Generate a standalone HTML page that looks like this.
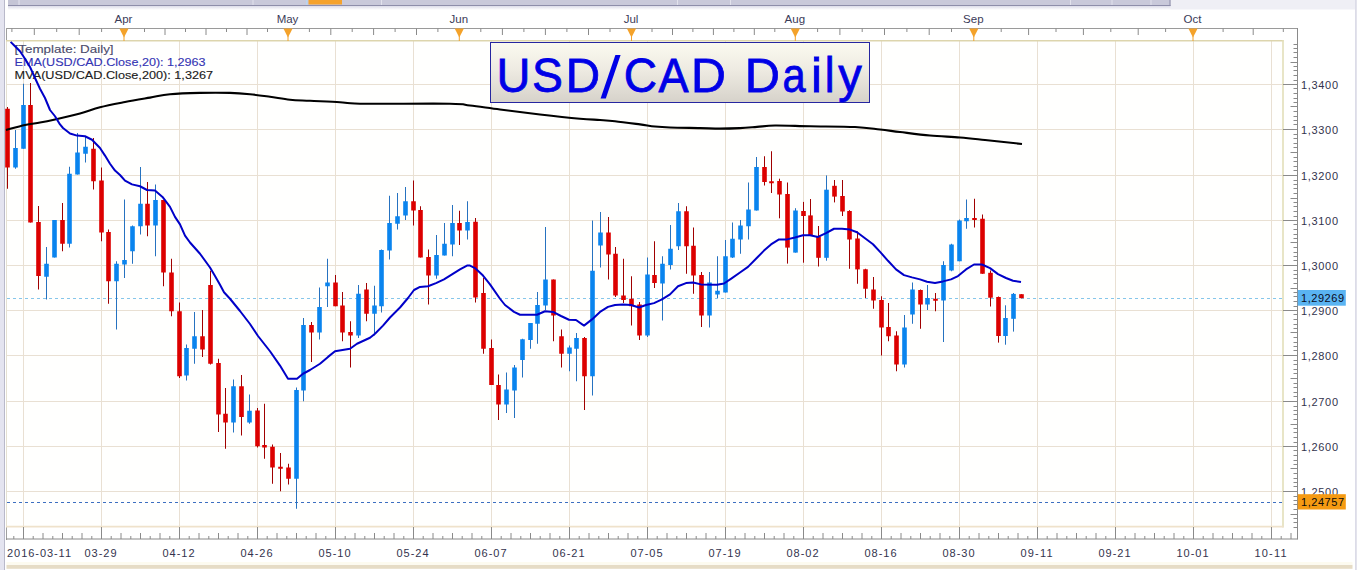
<!DOCTYPE html>
<html><head><meta charset="utf-8"><title>USD/CAD Daily</title>
<style>html,body{margin:0;padding:0;background:#fff;overflow:hidden}svg{display:block}</style>
</head><body>
<svg width="1358" height="570" viewBox="0 0 1358 570">
<rect x="0" y="0" width="1358" height="570" fill="#ffffff"/>
<rect x="0" y="0" width="4" height="570" fill="#e4e4f0"/>
<rect x="4" y="0" width="1" height="570" fill="#b9b9ca"/>
<rect x="1355" y="0" width="1.8" height="570" fill="#dcdce8"/>

<rect x="1170" y="0" width="185" height="9.5" fill="#efeff5"/>
<defs><linearGradient id="sh" x1="0" y1="0" x2="0" y2="1"><stop offset="0" stop-color="#d4d4e4"/><stop offset="1" stop-color="#ffffff"/></linearGradient><linearGradient id="tg" x1="0" y1="0" x2="0" y2="1"><stop offset="0" stop-color="#fbfaf0"/><stop offset="0.45" stop-color="#eeebe2"/><stop offset="1" stop-color="#d6d2ca"/></linearGradient></defs>
<rect x="8" y="5" width="1162.5" height="5" fill="url(#sh)"/>
<rect x="8" y="0" width="1162.5" height="5.5" fill="#c9c9da"/>
<rect x="8" y="0" width="10.5" height="5.5" fill="#c5c5d6"/>
<rect x="8" y="5" width="1162.5" height="1" fill="#8e8eaa"/>
<rect x="18.5" y="0" width="1" height="5" fill="#e2e2ec"/>
<rect x="252.5" y="0" width="1" height="5" fill="#e2e2ec"/>
<rect x="381" y="0" width="1" height="5" fill="#e2e2ec"/>
<rect x="677" y="0" width="1" height="5" fill="#e2e2ec"/>
<rect x="730" y="0" width="1" height="5" fill="#e2e2ec"/>
<rect x="1070" y="0" width="1" height="5" fill="#e2e2ec"/>
<rect x="1111.5" y="0" width="1" height="5" fill="#e2e2ec"/>
<rect x="1150.5" y="0" width="1" height="5" fill="#e2e2ec"/>
<rect x="306" y="0" width="1.5" height="5" fill="#b8d4f0"/>
<rect x="308.5" y="0" width="33.5" height="4.5" fill="#f5a22c"/>
<rect x="1169.5" y="0" width="1" height="6" fill="#8e8eaa"/>
<rect x="6.5" y="28" width="1291" height="13" fill="#ffffff"/>
<line x1="6" y1="28.5" x2="1298" y2="28.5" stroke="#9a9a9a" stroke-width="1"/>
<line x1="6.5" y1="28" x2="6.5" y2="540" stroke="#a0a0a0" stroke-width="1"/>
<line x1="11.9" y1="28.5" x2="11.9" y2="32.0" stroke="#8a8a8a" stroke-width="1"/>
<line x1="34.3" y1="28.5" x2="34.3" y2="35.0" stroke="#8a8a8a" stroke-width="1"/>
<line x1="56.7" y1="28.5" x2="56.7" y2="32.0" stroke="#8a8a8a" stroke-width="1"/>
<line x1="79.2" y1="28.5" x2="79.2" y2="35.0" stroke="#8a8a8a" stroke-width="1"/>
<line x1="101.6" y1="28.5" x2="101.6" y2="32.0" stroke="#8a8a8a" stroke-width="1"/>
<line x1="144.5" y1="28.5" x2="144.5" y2="32.0" stroke="#8a8a8a" stroke-width="1"/>
<line x1="165.0" y1="28.5" x2="165.0" y2="35.0" stroke="#8a8a8a" stroke-width="1"/>
<line x1="185.5" y1="28.5" x2="185.5" y2="32.0" stroke="#8a8a8a" stroke-width="1"/>
<line x1="206.0" y1="28.5" x2="206.0" y2="35.0" stroke="#8a8a8a" stroke-width="1"/>
<line x1="226.5" y1="28.5" x2="226.5" y2="32.0" stroke="#8a8a8a" stroke-width="1"/>
<line x1="247.0" y1="28.5" x2="247.0" y2="35.0" stroke="#8a8a8a" stroke-width="1"/>
<line x1="267.5" y1="28.5" x2="267.5" y2="32.0" stroke="#8a8a8a" stroke-width="1"/>
<line x1="309.4" y1="28.5" x2="309.4" y2="32.0" stroke="#8a8a8a" stroke-width="1"/>
<line x1="330.8" y1="28.5" x2="330.8" y2="35.0" stroke="#8a8a8a" stroke-width="1"/>
<line x1="352.2" y1="28.5" x2="352.2" y2="32.0" stroke="#8a8a8a" stroke-width="1"/>
<line x1="373.6" y1="28.5" x2="373.6" y2="35.0" stroke="#8a8a8a" stroke-width="1"/>
<line x1="395.1" y1="28.5" x2="395.1" y2="32.0" stroke="#8a8a8a" stroke-width="1"/>
<line x1="416.5" y1="28.5" x2="416.5" y2="35.0" stroke="#8a8a8a" stroke-width="1"/>
<line x1="437.9" y1="28.5" x2="437.9" y2="32.0" stroke="#8a8a8a" stroke-width="1"/>
<line x1="480.8" y1="28.5" x2="480.8" y2="32.0" stroke="#8a8a8a" stroke-width="1"/>
<line x1="502.4" y1="28.5" x2="502.4" y2="35.0" stroke="#8a8a8a" stroke-width="1"/>
<line x1="523.9" y1="28.5" x2="523.9" y2="32.0" stroke="#8a8a8a" stroke-width="1"/>
<line x1="545.4" y1="28.5" x2="545.4" y2="35.0" stroke="#8a8a8a" stroke-width="1"/>
<line x1="566.9" y1="28.5" x2="566.9" y2="32.0" stroke="#8a8a8a" stroke-width="1"/>
<line x1="588.5" y1="28.5" x2="588.5" y2="35.0" stroke="#8a8a8a" stroke-width="1"/>
<line x1="610.0" y1="28.5" x2="610.0" y2="32.0" stroke="#8a8a8a" stroke-width="1"/>
<line x1="652.0" y1="28.5" x2="652.0" y2="32.0" stroke="#8a8a8a" stroke-width="1"/>
<line x1="672.5" y1="28.5" x2="672.5" y2="35.0" stroke="#8a8a8a" stroke-width="1"/>
<line x1="692.9" y1="28.5" x2="692.9" y2="32.0" stroke="#8a8a8a" stroke-width="1"/>
<line x1="713.4" y1="28.5" x2="713.4" y2="35.0" stroke="#8a8a8a" stroke-width="1"/>
<line x1="733.9" y1="28.5" x2="733.9" y2="32.0" stroke="#8a8a8a" stroke-width="1"/>
<line x1="754.3" y1="28.5" x2="754.3" y2="35.0" stroke="#8a8a8a" stroke-width="1"/>
<line x1="774.8" y1="28.5" x2="774.8" y2="32.0" stroke="#8a8a8a" stroke-width="1"/>
<line x1="817.6" y1="28.5" x2="817.6" y2="32.0" stroke="#8a8a8a" stroke-width="1"/>
<line x1="839.9" y1="28.5" x2="839.9" y2="35.0" stroke="#8a8a8a" stroke-width="1"/>
<line x1="862.2" y1="28.5" x2="862.2" y2="32.0" stroke="#8a8a8a" stroke-width="1"/>
<line x1="884.5" y1="28.5" x2="884.5" y2="35.0" stroke="#8a8a8a" stroke-width="1"/>
<line x1="906.9" y1="28.5" x2="906.9" y2="32.0" stroke="#8a8a8a" stroke-width="1"/>
<line x1="929.2" y1="28.5" x2="929.2" y2="35.0" stroke="#8a8a8a" stroke-width="1"/>
<line x1="951.5" y1="28.5" x2="951.5" y2="32.0" stroke="#8a8a8a" stroke-width="1"/>
<line x1="1001.2" y1="28.5" x2="1001.2" y2="32.0" stroke="#8a8a8a" stroke-width="1"/>
<line x1="1028.6" y1="28.5" x2="1028.6" y2="35.0" stroke="#8a8a8a" stroke-width="1"/>
<line x1="1056.0" y1="28.5" x2="1056.0" y2="32.0" stroke="#8a8a8a" stroke-width="1"/>
<line x1="1083.4" y1="28.5" x2="1083.4" y2="35.0" stroke="#8a8a8a" stroke-width="1"/>
<line x1="1110.8" y1="28.5" x2="1110.8" y2="32.0" stroke="#8a8a8a" stroke-width="1"/>
<line x1="1138.2" y1="28.5" x2="1138.2" y2="35.0" stroke="#8a8a8a" stroke-width="1"/>
<line x1="1165.6" y1="28.5" x2="1165.6" y2="32.0" stroke="#8a8a8a" stroke-width="1"/>
<line x1="1223.1" y1="28.5" x2="1223.1" y2="32.0" stroke="#8a8a8a" stroke-width="1"/>
<line x1="1253.2" y1="28.5" x2="1253.2" y2="35.0" stroke="#8a8a8a" stroke-width="1"/>
<line x1="1283.3" y1="28.5" x2="1283.3" y2="32.0" stroke="#8a8a8a" stroke-width="1"/>
<text x="123.5" y="22.9" font-family='"Liberation Sans", sans-serif' font-size="11.5" fill="#3b3b58" stroke="#3b3b58" stroke-width="0.0" text-anchor="middle">Apr</text>
<text x="287.5" y="22.9" font-family='"Liberation Sans", sans-serif' font-size="11.5" fill="#3b3b58" stroke="#3b3b58" stroke-width="0.0" text-anchor="middle">May</text>
<text x="458.8" y="22.9" font-family='"Liberation Sans", sans-serif' font-size="11.5" fill="#3b3b58" stroke="#3b3b58" stroke-width="0.0" text-anchor="middle">Jun</text>
<text x="631.0" y="22.9" font-family='"Liberation Sans", sans-serif' font-size="11.5" fill="#3b3b58" stroke="#3b3b58" stroke-width="0.0" text-anchor="middle">Jul</text>
<text x="794.8" y="22.9" font-family='"Liberation Sans", sans-serif' font-size="11.5" fill="#3b3b58" stroke="#3b3b58" stroke-width="0.0" text-anchor="middle">Aug</text>
<text x="973.3" y="22.9" font-family='"Liberation Sans", sans-serif' font-size="11.5" fill="#3b3b58" stroke="#3b3b58" stroke-width="0.0" text-anchor="middle">Sep</text>
<text x="1192.5" y="22.9" font-family='"Liberation Sans", sans-serif' font-size="11.5" fill="#3b3b58" stroke="#3b3b58" stroke-width="0.0" text-anchor="middle">Oct</text>
<rect x="6.5" y="40.5" width="1276.5" height="486" fill="#fffffe"/>
<line x1="6.5" y1="84.50" x2="1283" y2="84.50" stroke="#e9e0d3" stroke-width="1"/>
<line x1="6.5" y1="129.50" x2="1283" y2="129.50" stroke="#e9e0d3" stroke-width="1"/>
<line x1="6.5" y1="175.50" x2="1283" y2="175.50" stroke="#e9e0d3" stroke-width="1"/>
<line x1="6.5" y1="220.50" x2="1283" y2="220.50" stroke="#e9e0d3" stroke-width="1"/>
<line x1="6.5" y1="265.50" x2="1283" y2="265.50" stroke="#e9e0d3" stroke-width="1"/>
<line x1="6.5" y1="310.50" x2="1283" y2="310.50" stroke="#e9e0d3" stroke-width="1"/>
<line x1="6.5" y1="355.50" x2="1283" y2="355.50" stroke="#e9e0d3" stroke-width="1"/>
<line x1="6.5" y1="401.50" x2="1283" y2="401.50" stroke="#e9e0d3" stroke-width="1"/>
<line x1="6.5" y1="446.50" x2="1283" y2="446.50" stroke="#e9e0d3" stroke-width="1"/>
<line x1="6.5" y1="491.50" x2="1283" y2="491.50" stroke="#e9e0d3" stroke-width="1"/>
<line x1="23.5" y1="40.5" x2="23.5" y2="527" stroke="#e9e0d3" stroke-width="1"/>
<line x1="101.5" y1="40.5" x2="101.5" y2="527" stroke="#e9e0d3" stroke-width="1"/>
<line x1="179.5" y1="40.5" x2="179.5" y2="527" stroke="#e9e0d3" stroke-width="1"/>
<line x1="257.5" y1="40.5" x2="257.5" y2="527" stroke="#e9e0d3" stroke-width="1"/>
<line x1="335.5" y1="40.5" x2="335.5" y2="527" stroke="#e9e0d3" stroke-width="1"/>
<line x1="413.5" y1="40.5" x2="413.5" y2="527" stroke="#e9e0d3" stroke-width="1"/>
<line x1="491.5" y1="40.5" x2="491.5" y2="527" stroke="#e9e0d3" stroke-width="1"/>
<line x1="569.5" y1="40.5" x2="569.5" y2="527" stroke="#e9e0d3" stroke-width="1"/>
<line x1="647.5" y1="40.5" x2="647.5" y2="527" stroke="#e9e0d3" stroke-width="1"/>
<line x1="725.5" y1="40.5" x2="725.5" y2="527" stroke="#e9e0d3" stroke-width="1"/>
<line x1="803.5" y1="40.5" x2="803.5" y2="527" stroke="#e9e0d3" stroke-width="1"/>
<line x1="881.5" y1="40.5" x2="881.5" y2="527" stroke="#e9e0d3" stroke-width="1"/>
<line x1="959.5" y1="40.5" x2="959.5" y2="527" stroke="#e9e0d3" stroke-width="1"/>
<line x1="1037.5" y1="40.5" x2="1037.5" y2="527" stroke="#e9e0d3" stroke-width="1"/>
<line x1="1115.5" y1="40.5" x2="1115.5" y2="527" stroke="#e9e0d3" stroke-width="1"/>
<line x1="1193.5" y1="40.5" x2="1193.5" y2="527" stroke="#e9e0d3" stroke-width="1"/>
<line x1="1271.5" y1="40.5" x2="1271.5" y2="527" stroke="#e9e0d3" stroke-width="1"/>
<line x1="6.5" y1="40.5" x2="6.5" y2="527" stroke="#e4e0d2" stroke-width="1"/>
<line x1="6" y1="40.8" x2="1283.5" y2="40.8" stroke="#ddd5ad" stroke-width="1.6"/>
<line x1="1283" y1="40" x2="1283" y2="527.5" stroke="#e3dfb9" stroke-width="1.6"/>
<line x1="6" y1="526.6" x2="1283.5" y2="526.6" stroke="#efe2cb" stroke-width="1.8"/>
<polygon points="119.4,28.5 128.6,28.5 124.0,37.5" fill="#f4a22a"/>
<line x1="124.0" y1="36" x2="124.0" y2="41" stroke="#f4a22a" stroke-width="1"/>
<polygon points="283.4,28.5 292.6,28.5 288.0,37.5" fill="#f4a22a"/>
<line x1="288.0" y1="36" x2="288.0" y2="41" stroke="#f4a22a" stroke-width="1"/>
<polygon points="454.7,28.5 463.9,28.5 459.3,37.5" fill="#f4a22a"/>
<line x1="459.3" y1="36" x2="459.3" y2="41" stroke="#f4a22a" stroke-width="1"/>
<polygon points="626.9,28.5 636.1,28.5 631.5,37.5" fill="#f4a22a"/>
<line x1="631.5" y1="36" x2="631.5" y2="41" stroke="#f4a22a" stroke-width="1"/>
<polygon points="790.7,28.5 799.9,28.5 795.3,37.5" fill="#f4a22a"/>
<line x1="795.3" y1="36" x2="795.3" y2="41" stroke="#f4a22a" stroke-width="1"/>
<polygon points="969.2,28.5 978.4,28.5 973.8,37.5" fill="#f4a22a"/>
<line x1="973.8" y1="36" x2="973.8" y2="41" stroke="#f4a22a" stroke-width="1"/>
<polygon points="1188.4,28.5 1197.6,28.5 1193.0,37.5" fill="#f4a22a"/>
<line x1="1193.0" y1="36" x2="1193.0" y2="41" stroke="#f4a22a" stroke-width="1"/>
<line x1="7" y1="298.5" x2="1283" y2="298.5" stroke="#86c6ea" stroke-width="1" stroke-dasharray="3,3"/>
<line x1="7" y1="502.5" x2="1283" y2="502.5" stroke="#3d6fc0" stroke-width="1.2" stroke-dasharray="3,3"/>
<rect x="7" y="107.00" width="1" height="81.75" fill="#a00000"/>
<rect x="5.20" y="108.75" width="4.6" height="58.75" fill="#dc0000"/>
<rect x="15" y="130.00" width="1" height="38.75" fill="#2672c0"/>
<rect x="13.20" y="148.00" width="4.6" height="19.50" fill="#0a84ee"/>
<rect x="23" y="83.75" width="1" height="65.00" fill="#2672c0"/>
<rect x="21.20" y="105.00" width="4.6" height="43.75" fill="#0a84ee"/>
<rect x="30" y="83.00" width="1" height="139.50" fill="#a00000"/>
<rect x="28.20" y="105.00" width="4.6" height="117.50" fill="#dc0000"/>
<rect x="38" y="206.00" width="1" height="83.50" fill="#a00000"/>
<rect x="36.20" y="222.00" width="4.6" height="54.00" fill="#dc0000"/>
<rect x="46" y="247.00" width="1" height="52.50" fill="#2672c0"/>
<rect x="44.20" y="263.75" width="4.6" height="13.00" fill="#0a84ee"/>
<rect x="54" y="220.00" width="1" height="37.50" fill="#2672c0"/>
<rect x="52.20" y="220.00" width="4.6" height="37.50" fill="#0a84ee"/>
<rect x="62" y="203.00" width="1" height="48.25" fill="#a00000"/>
<rect x="60.20" y="220.00" width="4.6" height="23.75" fill="#dc0000"/>
<rect x="69" y="166.75" width="1" height="80.75" fill="#2672c0"/>
<rect x="67.20" y="173.75" width="4.6" height="70.00" fill="#0a84ee"/>
<rect x="77" y="133.00" width="1" height="41.50" fill="#2672c0"/>
<rect x="75.20" y="152.50" width="4.6" height="22.00" fill="#0a84ee"/>
<rect x="85" y="136.25" width="1" height="26.25" fill="#2672c0"/>
<rect x="83.20" y="146.75" width="4.6" height="7.00" fill="#0a84ee"/>
<rect x="93" y="138.00" width="1" height="51.50" fill="#a00000"/>
<rect x="91.20" y="148.75" width="4.6" height="32.50" fill="#dc0000"/>
<rect x="101" y="167.50" width="1" height="73.75" fill="#a00000"/>
<rect x="99.20" y="180.50" width="4.6" height="52.00" fill="#dc0000"/>
<rect x="108" y="229.50" width="1" height="74.25" fill="#a00000"/>
<rect x="106.20" y="232.00" width="4.6" height="49.25" fill="#dc0000"/>
<rect x="116" y="261.25" width="1" height="68.25" fill="#2672c0"/>
<rect x="114.20" y="263.75" width="4.6" height="17.50" fill="#0a84ee"/>
<rect x="124" y="199.50" width="1" height="78.50" fill="#2672c0"/>
<rect x="122.20" y="260.00" width="4.6" height="4.50" fill="#0a84ee"/>
<rect x="132" y="225.50" width="1" height="38.25" fill="#2672c0"/>
<rect x="130.20" y="226.25" width="4.6" height="25.00" fill="#0a84ee"/>
<rect x="140" y="167.00" width="1" height="67.50" fill="#2672c0"/>
<rect x="138.20" y="203.75" width="4.6" height="22.50" fill="#0a84ee"/>
<rect x="147" y="182.00" width="1" height="54.25" fill="#a00000"/>
<rect x="145.20" y="203.75" width="4.6" height="21.75" fill="#dc0000"/>
<rect x="155" y="184.50" width="1" height="71.75" fill="#2672c0"/>
<rect x="153.20" y="200.00" width="4.6" height="25.50" fill="#0a84ee"/>
<rect x="163" y="200.00" width="1" height="86.25" fill="#a00000"/>
<rect x="161.20" y="200.00" width="4.6" height="72.50" fill="#dc0000"/>
<rect x="171" y="258.75" width="1" height="57.50" fill="#a00000"/>
<rect x="169.20" y="272.50" width="4.6" height="38.75" fill="#dc0000"/>
<rect x="179" y="302.50" width="1" height="75.50" fill="#a00000"/>
<rect x="177.20" y="311.25" width="4.6" height="65.00" fill="#dc0000"/>
<rect x="186" y="344.50" width="1" height="36.00" fill="#2672c0"/>
<rect x="184.20" y="348.00" width="4.6" height="27.50" fill="#0a84ee"/>
<rect x="194" y="312.00" width="1" height="51.75" fill="#2672c0"/>
<rect x="192.20" y="336.25" width="4.6" height="12.50" fill="#0a84ee"/>
<rect x="202" y="310.00" width="1" height="47.00" fill="#a00000"/>
<rect x="200.20" y="336.25" width="4.6" height="13.25" fill="#dc0000"/>
<rect x="210" y="270.75" width="1" height="93.75" fill="#a00000"/>
<rect x="208.20" y="285.00" width="4.6" height="78.75" fill="#dc0000"/>
<rect x="218" y="358.75" width="1" height="73.25" fill="#a00000"/>
<rect x="216.20" y="363.00" width="4.6" height="51.50" fill="#dc0000"/>
<rect x="225" y="388.00" width="1" height="60.75" fill="#a00000"/>
<rect x="223.20" y="413.75" width="4.6" height="8.75" fill="#dc0000"/>
<rect x="233" y="379.50" width="1" height="53.00" fill="#2672c0"/>
<rect x="231.20" y="386.25" width="4.6" height="36.25" fill="#0a84ee"/>
<rect x="241" y="375.00" width="1" height="60.50" fill="#a00000"/>
<rect x="239.20" y="386.25" width="4.6" height="30.75" fill="#dc0000"/>
<rect x="249" y="394.50" width="1" height="29.25" fill="#2672c0"/>
<rect x="247.20" y="410.75" width="4.6" height="11.75" fill="#0a84ee"/>
<rect x="257" y="408.00" width="1" height="39.50" fill="#a00000"/>
<rect x="255.20" y="410.50" width="4.6" height="35.75" fill="#dc0000"/>
<rect x="264" y="403.75" width="1" height="55.00" fill="#a00000"/>
<rect x="262.20" y="445.00" width="4.6" height="2.50" fill="#dc0000"/>
<rect x="272" y="444.50" width="1" height="39.25" fill="#a00000"/>
<rect x="270.20" y="446.75" width="4.6" height="20.75" fill="#dc0000"/>
<rect x="280" y="453.00" width="1" height="38.25" fill="#a00000"/>
<rect x="278.20" y="466.75" width="4.6" height="2.00" fill="#dc0000"/>
<rect x="288" y="463.75" width="1" height="20.75" fill="#a00000"/>
<rect x="286.20" y="467.50" width="4.6" height="11.25" fill="#dc0000"/>
<rect x="296" y="387.50" width="1" height="121.25" fill="#2672c0"/>
<rect x="294.20" y="390.00" width="4.6" height="88.75" fill="#0a84ee"/>
<rect x="303" y="318.00" width="1" height="83.25" fill="#2672c0"/>
<rect x="301.20" y="325.00" width="4.6" height="65.50" fill="#0a84ee"/>
<rect x="311" y="322.00" width="1" height="40.00" fill="#a00000"/>
<rect x="309.20" y="325.00" width="4.6" height="7.50" fill="#dc0000"/>
<rect x="319" y="287.50" width="1" height="52.00" fill="#2672c0"/>
<rect x="317.20" y="307.00" width="4.6" height="25.50" fill="#0a84ee"/>
<rect x="327" y="258.75" width="1" height="48.25" fill="#2672c0"/>
<rect x="325.20" y="282.50" width="4.6" height="3.75" fill="#0a84ee"/>
<rect x="335" y="275.00" width="1" height="31.25" fill="#a00000"/>
<rect x="333.20" y="282.50" width="4.6" height="23.75" fill="#dc0000"/>
<rect x="342" y="292.00" width="1" height="49.25" fill="#a00000"/>
<rect x="340.20" y="305.50" width="4.6" height="27.00" fill="#dc0000"/>
<rect x="350" y="321.25" width="1" height="46.25" fill="#a00000"/>
<rect x="348.20" y="332.00" width="4.6" height="3.50" fill="#dc0000"/>
<rect x="358" y="285.00" width="1" height="53.00" fill="#2672c0"/>
<rect x="356.20" y="293.75" width="4.6" height="41.75" fill="#0a84ee"/>
<rect x="366" y="283.00" width="1" height="38.25" fill="#a00000"/>
<rect x="364.20" y="289.50" width="4.6" height="24.25" fill="#dc0000"/>
<rect x="374" y="285.75" width="1" height="49.75" fill="#2672c0"/>
<rect x="372.20" y="305.50" width="4.6" height="8.25" fill="#0a84ee"/>
<rect x="381" y="249.50" width="1" height="63.00" fill="#2672c0"/>
<rect x="379.20" y="250.00" width="4.6" height="56.25" fill="#0a84ee"/>
<rect x="389" y="195.75" width="1" height="63.75" fill="#2672c0"/>
<rect x="387.20" y="223.00" width="4.6" height="27.50" fill="#0a84ee"/>
<rect x="397" y="193.00" width="1" height="36.50" fill="#2672c0"/>
<rect x="395.20" y="216.25" width="4.6" height="7.50" fill="#0a84ee"/>
<rect x="405" y="187.00" width="1" height="33.00" fill="#2672c0"/>
<rect x="403.20" y="201.25" width="4.6" height="14.25" fill="#0a84ee"/>
<rect x="413" y="180.50" width="1" height="45.00" fill="#a00000"/>
<rect x="411.20" y="201.25" width="4.6" height="9.25" fill="#dc0000"/>
<rect x="420" y="206.25" width="1" height="51.25" fill="#a00000"/>
<rect x="418.20" y="210.00" width="4.6" height="47.50" fill="#dc0000"/>
<rect x="428" y="249.50" width="1" height="55.00" fill="#a00000"/>
<rect x="426.20" y="257.00" width="4.6" height="18.50" fill="#dc0000"/>
<rect x="436" y="235.00" width="1" height="43.75" fill="#2672c0"/>
<rect x="434.20" y="255.00" width="4.6" height="20.50" fill="#0a84ee"/>
<rect x="444" y="223.00" width="1" height="32.50" fill="#2672c0"/>
<rect x="442.20" y="243.75" width="4.6" height="11.75" fill="#0a84ee"/>
<rect x="452" y="205.00" width="1" height="51.25" fill="#2672c0"/>
<rect x="450.20" y="223.00" width="4.6" height="21.50" fill="#0a84ee"/>
<rect x="459" y="210.75" width="1" height="34.25" fill="#a00000"/>
<rect x="457.20" y="223.00" width="4.6" height="7.50" fill="#dc0000"/>
<rect x="467" y="201.25" width="1" height="38.25" fill="#2672c0"/>
<rect x="465.20" y="222.00" width="4.6" height="8.50" fill="#0a84ee"/>
<rect x="475" y="218.00" width="1" height="84.50" fill="#a00000"/>
<rect x="473.20" y="221.75" width="4.6" height="75.75" fill="#dc0000"/>
<rect x="483" y="278.00" width="1" height="75.75" fill="#a00000"/>
<rect x="481.20" y="293.00" width="4.6" height="55.75" fill="#dc0000"/>
<rect x="491" y="339.50" width="1" height="45.50" fill="#a00000"/>
<rect x="489.20" y="348.00" width="4.6" height="37.00" fill="#dc0000"/>
<rect x="498" y="374.50" width="1" height="45.50" fill="#a00000"/>
<rect x="496.20" y="385.00" width="4.6" height="19.50" fill="#dc0000"/>
<rect x="506" y="372.50" width="1" height="40.50" fill="#2672c0"/>
<rect x="504.20" y="389.50" width="4.6" height="15.00" fill="#0a84ee"/>
<rect x="514" y="365.00" width="1" height="53.00" fill="#2672c0"/>
<rect x="512.20" y="367.50" width="4.6" height="23.00" fill="#0a84ee"/>
<rect x="522" y="338.75" width="1" height="38.75" fill="#2672c0"/>
<rect x="520.20" y="339.25" width="4.6" height="20.75" fill="#0a84ee"/>
<rect x="530" y="323.00" width="1" height="25.75" fill="#2672c0"/>
<rect x="528.20" y="323.00" width="4.6" height="17.00" fill="#0a84ee"/>
<rect x="537" y="292.00" width="1" height="51.75" fill="#2672c0"/>
<rect x="535.20" y="305.00" width="4.6" height="18.75" fill="#0a84ee"/>
<rect x="545" y="227.00" width="1" height="83.00" fill="#2672c0"/>
<rect x="543.20" y="279.50" width="4.6" height="26.00" fill="#0a84ee"/>
<rect x="553" y="279.50" width="1" height="61.75" fill="#a00000"/>
<rect x="551.20" y="279.50" width="4.6" height="36.00" fill="#dc0000"/>
<rect x="561" y="329.50" width="1" height="38.00" fill="#a00000"/>
<rect x="559.20" y="336.25" width="4.6" height="17.50" fill="#dc0000"/>
<rect x="569" y="345.50" width="1" height="25.75" fill="#2672c0"/>
<rect x="567.20" y="347.50" width="4.6" height="6.25" fill="#0a84ee"/>
<rect x="576" y="333.00" width="1" height="48.25" fill="#2672c0"/>
<rect x="574.20" y="338.00" width="4.6" height="10.75" fill="#0a84ee"/>
<rect x="584" y="337.00" width="1" height="73.00" fill="#a00000"/>
<rect x="582.20" y="338.00" width="4.6" height="38.25" fill="#dc0000"/>
<rect x="592" y="220.50" width="1" height="175.00" fill="#2672c0"/>
<rect x="590.20" y="270.75" width="4.6" height="105.50" fill="#0a84ee"/>
<rect x="600" y="212.00" width="1" height="55.50" fill="#2672c0"/>
<rect x="598.20" y="232.50" width="4.6" height="13.00" fill="#0a84ee"/>
<rect x="608" y="217.00" width="1" height="62.50" fill="#a00000"/>
<rect x="606.20" y="232.50" width="4.6" height="22.00" fill="#dc0000"/>
<rect x="615" y="247.00" width="1" height="50.00" fill="#a00000"/>
<rect x="613.20" y="253.75" width="4.6" height="41.75" fill="#dc0000"/>
<rect x="623" y="258.75" width="1" height="44.25" fill="#a00000"/>
<rect x="621.20" y="295.50" width="4.6" height="4.50" fill="#dc0000"/>
<rect x="631" y="276.25" width="1" height="49.25" fill="#a00000"/>
<rect x="629.20" y="298.75" width="4.6" height="7.50" fill="#dc0000"/>
<rect x="639" y="302.00" width="1" height="38.00" fill="#a00000"/>
<rect x="637.20" y="304.50" width="4.6" height="31.00" fill="#dc0000"/>
<rect x="647" y="257.50" width="1" height="79.50" fill="#2672c0"/>
<rect x="645.20" y="274.50" width="4.6" height="61.00" fill="#0a84ee"/>
<rect x="654" y="241.25" width="1" height="46.75" fill="#a00000"/>
<rect x="652.20" y="275.00" width="4.6" height="8.00" fill="#dc0000"/>
<rect x="662" y="256.25" width="1" height="64.25" fill="#2672c0"/>
<rect x="660.20" y="263.75" width="4.6" height="19.75" fill="#0a84ee"/>
<rect x="670" y="225.00" width="1" height="44.50" fill="#2672c0"/>
<rect x="668.20" y="248.75" width="4.6" height="16.25" fill="#0a84ee"/>
<rect x="678" y="203.00" width="1" height="47.00" fill="#2672c0"/>
<rect x="676.20" y="211.25" width="4.6" height="35.00" fill="#0a84ee"/>
<rect x="686" y="206.25" width="1" height="67.50" fill="#a00000"/>
<rect x="684.20" y="211.25" width="4.6" height="35.00" fill="#dc0000"/>
<rect x="693" y="227.50" width="1" height="66.25" fill="#a00000"/>
<rect x="691.20" y="245.75" width="4.6" height="29.75" fill="#dc0000"/>
<rect x="701" y="272.00" width="1" height="55.00" fill="#a00000"/>
<rect x="699.20" y="275.00" width="4.6" height="40.50" fill="#dc0000"/>
<rect x="709" y="272.00" width="1" height="55.50" fill="#2672c0"/>
<rect x="707.20" y="282.50" width="4.6" height="33.00" fill="#0a84ee"/>
<rect x="717" y="256.25" width="1" height="41.75" fill="#2672c0"/>
<rect x="715.20" y="290.75" width="4.6" height="3.75" fill="#0a84ee"/>
<rect x="725" y="240.00" width="1" height="52.50" fill="#2672c0"/>
<rect x="723.20" y="256.25" width="4.6" height="36.25" fill="#0a84ee"/>
<rect x="732" y="222.50" width="1" height="35.50" fill="#2672c0"/>
<rect x="730.20" y="238.75" width="4.6" height="18.75" fill="#0a84ee"/>
<rect x="740" y="220.00" width="1" height="33.75" fill="#2672c0"/>
<rect x="738.20" y="225.50" width="4.6" height="14.00" fill="#0a84ee"/>
<rect x="748" y="182.50" width="1" height="57.00" fill="#2672c0"/>
<rect x="746.20" y="209.50" width="4.6" height="16.75" fill="#0a84ee"/>
<rect x="756" y="157.00" width="1" height="53.50" fill="#2672c0"/>
<rect x="754.20" y="167.00" width="4.6" height="43.50" fill="#0a84ee"/>
<rect x="764" y="156.25" width="1" height="29.25" fill="#a00000"/>
<rect x="762.20" y="167.00" width="4.6" height="15.00" fill="#dc0000"/>
<rect x="771" y="151.25" width="1" height="41.75" fill="#a00000"/>
<rect x="769.20" y="181.25" width="4.6" height="2.00" fill="#dc0000"/>
<rect x="779" y="178.70" width="1" height="39.60" fill="#a00000"/>
<rect x="777.20" y="181.00" width="4.6" height="13.50" fill="#dc0000"/>
<rect x="787" y="182.50" width="1" height="81.10" fill="#a00000"/>
<rect x="785.20" y="194.00" width="4.6" height="53.60" fill="#dc0000"/>
<rect x="795" y="208.20" width="1" height="44.40" fill="#2672c0"/>
<rect x="793.20" y="210.50" width="4.6" height="42.10" fill="#0a84ee"/>
<rect x="803" y="201.90" width="1" height="60.80" fill="#a00000"/>
<rect x="801.20" y="211.00" width="4.6" height="5.00" fill="#dc0000"/>
<rect x="810" y="199.00" width="1" height="37.00" fill="#a00000"/>
<rect x="808.20" y="215.40" width="4.6" height="20.60" fill="#dc0000"/>
<rect x="818" y="226.00" width="1" height="40.50" fill="#a00000"/>
<rect x="816.20" y="236.60" width="4.6" height="21.20" fill="#dc0000"/>
<rect x="826" y="175.40" width="1" height="85.30" fill="#2672c0"/>
<rect x="824.20" y="189.70" width="4.6" height="68.10" fill="#0a84ee"/>
<rect x="834" y="180.00" width="1" height="22.40" fill="#a00000"/>
<rect x="832.20" y="185.80" width="4.6" height="10.80" fill="#dc0000"/>
<rect x="842" y="180.00" width="1" height="36.00" fill="#a00000"/>
<rect x="840.20" y="196.00" width="4.6" height="15.50" fill="#dc0000"/>
<rect x="849" y="210.20" width="1" height="58.60" fill="#a00000"/>
<rect x="847.20" y="211.00" width="4.6" height="28.50" fill="#dc0000"/>
<rect x="857" y="231.40" width="1" height="52.35" fill="#a00000"/>
<rect x="855.20" y="238.50" width="4.6" height="30.90" fill="#dc0000"/>
<rect x="865" y="268.75" width="1" height="29.25" fill="#a00000"/>
<rect x="863.20" y="269.25" width="4.6" height="19.50" fill="#dc0000"/>
<rect x="873" y="277.00" width="1" height="31.75" fill="#a00000"/>
<rect x="871.20" y="289.50" width="4.6" height="11.00" fill="#dc0000"/>
<rect x="881" y="296.25" width="1" height="59.25" fill="#a00000"/>
<rect x="879.20" y="300.00" width="4.6" height="27.50" fill="#dc0000"/>
<rect x="888" y="303.00" width="1" height="38.25" fill="#a00000"/>
<rect x="886.20" y="327.00" width="4.6" height="9.25" fill="#dc0000"/>
<rect x="896" y="331.25" width="1" height="40.00" fill="#a00000"/>
<rect x="894.20" y="335.50" width="4.6" height="29.00" fill="#dc0000"/>
<rect x="904" y="315.00" width="1" height="52.50" fill="#2672c0"/>
<rect x="902.20" y="327.50" width="4.6" height="37.00" fill="#0a84ee"/>
<rect x="912" y="282.50" width="1" height="41.25" fill="#2672c0"/>
<rect x="910.20" y="289.50" width="4.6" height="25.00" fill="#0a84ee"/>
<rect x="920" y="289.50" width="1" height="39.25" fill="#a00000"/>
<rect x="918.20" y="290.00" width="4.6" height="14.50" fill="#dc0000"/>
<rect x="927" y="285.00" width="1" height="25.00" fill="#2672c0"/>
<rect x="925.20" y="298.00" width="4.6" height="6.50" fill="#0a84ee"/>
<rect x="935" y="293.00" width="1" height="18.25" fill="#a00000"/>
<rect x="933.20" y="298.75" width="4.6" height="2.00" fill="#dc0000"/>
<rect x="943" y="261.25" width="1" height="80.75" fill="#2672c0"/>
<rect x="941.20" y="265.00" width="4.6" height="35.50" fill="#0a84ee"/>
<rect x="951" y="243.75" width="1" height="27.50" fill="#2672c0"/>
<rect x="949.20" y="244.50" width="4.6" height="26.00" fill="#0a84ee"/>
<rect x="959" y="219.50" width="1" height="41.75" fill="#2672c0"/>
<rect x="957.20" y="220.50" width="4.6" height="40.75" fill="#0a84ee"/>
<rect x="966" y="199.50" width="1" height="29.25" fill="#2672c0"/>
<rect x="964.20" y="218.00" width="4.6" height="3.25" fill="#0a84ee"/>
<rect x="974" y="198.75" width="1" height="28.75" fill="#a00000"/>
<rect x="972.20" y="218.00" width="4.6" height="2.00" fill="#dc0000"/>
<rect x="982" y="214.50" width="1" height="59.25" fill="#a00000"/>
<rect x="980.20" y="218.75" width="4.6" height="55.00" fill="#dc0000"/>
<rect x="990" y="270.50" width="1" height="36.00" fill="#a00000"/>
<rect x="988.20" y="272.80" width="4.6" height="24.90" fill="#dc0000"/>
<rect x="998" y="296.50" width="1" height="46.10" fill="#a00000"/>
<rect x="996.20" y="297.00" width="4.6" height="39.00" fill="#dc0000"/>
<rect x="1005" y="305.30" width="1" height="39.40" fill="#2672c0"/>
<rect x="1003.20" y="318.00" width="4.6" height="18.00" fill="#0a84ee"/>
<rect x="1013" y="293.00" width="1" height="38.60" fill="#2672c0"/>
<rect x="1011.20" y="293.90" width="4.6" height="24.90" fill="#0a84ee"/>
<rect x="1021" y="294.20" width="1" height="4.00" fill="#a00000"/>
<rect x="1019.20" y="294.20" width="4.6" height="4.00" fill="#dc0000"/>
<text x="14.6" y="53.3" font-family='"Liberation Sans", sans-serif' font-size="11" fill="#4c4c6c" stroke="#4c4c6c" stroke-width="0.12" textLength="99" lengthAdjust="spacingAndGlyphs">[Template: Daily]</text>
<text x="14.6" y="66" font-family='"Liberation Sans", sans-serif' font-size="11" fill="#3434b4" stroke="#3434b4" stroke-width="0.12" textLength="191" lengthAdjust="spacingAndGlyphs">EMA(USD/CAD.Close,20): 1,2963</text>
<text x="14.6" y="78.9" font-family='"Liberation Sans", sans-serif' font-size="11" fill="#202020" stroke="#202020" stroke-width="0.12" textLength="198.5" lengthAdjust="spacingAndGlyphs">MVA(USD/CAD.Close,200): 1,3267</text>
<path d="M6.0,130.00 C9.2,129.17 19.3,126.25 25.0,125.00 C30.7,123.75 35.0,123.43 40.0,122.50 C45.0,121.57 48.3,120.90 55.0,119.40 C61.7,117.90 72.5,115.53 80.0,113.50 C87.5,111.47 92.5,109.12 100.0,107.20 C107.5,105.28 116.7,103.60 125.0,102.00 C133.3,100.40 142.5,98.89 150.0,97.60 C157.5,96.31 161.7,95.03 170.0,94.25 C178.3,93.47 190.0,93.12 200.0,92.90 C210.0,92.68 221.7,92.68 230.0,92.90 C238.3,93.12 243.3,93.60 250.0,94.25 C256.7,94.90 263.3,95.88 270.0,96.80 C276.7,97.72 283.3,99.13 290.0,99.80 C296.7,100.47 301.7,100.40 310.0,100.80 C318.3,101.20 331.7,101.71 340.0,102.20 C348.3,102.69 341.7,103.49 360.0,103.75 C378.3,104.01 431.7,103.46 450.0,103.75 C468.3,104.04 461.7,104.54 470.0,105.50 C478.3,106.46 488.3,108.00 500.0,109.50 C511.7,111.00 526.7,112.96 540.0,114.50 C553.3,116.04 570.0,117.83 580.0,118.75 C590.0,119.67 594.2,119.58 600.0,120.00 C605.8,120.42 608.3,120.52 615.0,121.25 C621.7,121.98 633.3,123.53 640.0,124.40 C646.7,125.28 650.0,125.98 655.0,126.50 C660.0,127.02 662.5,127.23 670.0,127.50 C677.5,127.77 691.7,127.92 700.0,128.10 C708.3,128.28 713.3,128.60 720.0,128.60 C726.7,128.60 733.8,128.38 740.0,128.10 C746.2,127.82 751.2,127.33 757.0,126.90 C762.8,126.47 766.2,125.61 775.0,125.50 C783.8,125.39 796.7,126.00 810.0,126.25 C823.3,126.50 843.3,126.46 855.0,127.00 C866.7,127.54 872.5,128.67 880.0,129.50 C887.5,130.33 891.7,131.00 900.0,132.00 C908.3,133.00 920.0,134.58 930.0,135.50 C940.0,136.42 950.8,136.75 960.0,137.50 C969.2,138.25 974.7,138.92 985.0,140.00 C995.3,141.08 1015.8,143.33 1022.0,144.00" fill="none" stroke="#000000" stroke-width="2.1" stroke-linejoin="round"/>
<path d="M10.6,41.90 C10.6,41.90 15.0,46.25 15.0,46.25 C15.0,46.25 20.0,51.25 20.0,51.25 C20.0,51.25 25.0,58.75 25.0,58.75 C25.0,58.75 30.0,66.90 30.0,66.90 C30.0,66.90 35.0,78.00 35.0,78.00 C35.0,78.00 40.0,88.75 40.0,88.75 C40.0,88.75 45.0,98.00 45.0,98.00 C45.0,98.00 50.0,110.00 50.0,110.00 C50.0,110.00 55.0,116.25 55.0,116.25 C55.0,116.25 60.0,124.40 60.0,124.40 C60.0,124.40 63.0,128.00 63.0,128.00 C63.0,128.00 70.0,133.50 70.0,133.50 C70.0,133.50 77.0,135.60 77.0,135.60 C77.0,135.60 85.0,136.25 85.0,136.25 C85.0,136.25 92.0,139.75 92.0,139.75 C92.0,139.75 100.0,148.00 100.0,148.00 C100.0,148.00 105.0,155.60 105.0,155.60 C105.0,155.60 110.0,163.75 110.0,163.75 C110.0,163.75 115.0,170.60 115.0,170.60 C115.0,170.60 120.0,175.00 120.0,175.00 C120.0,175.00 125.0,180.60 125.0,180.60 C125.0,180.60 132.0,184.40 132.0,184.40 C132.0,184.40 140.0,186.25 140.0,186.25 C140.0,186.25 147.0,190.00 147.0,190.00 C147.0,190.00 155.0,190.60 155.0,190.60 C155.0,190.60 162.5,196.90 162.5,196.90 C162.5,196.90 170.0,206.90 170.0,206.90 C170.0,206.90 175.0,216.90 175.0,216.90 C175.0,216.90 180.0,224.40 180.0,224.40 C180.0,224.40 185.0,235.60 185.0,235.60 C185.0,235.60 190.0,242.50 190.0,242.50 C190.0,242.50 200.0,253.75 200.0,253.75 C200.0,253.75 210.0,267.50 210.0,267.50 C210.0,267.50 215.0,276.00 215.0,276.00 C215.0,276.00 220.0,284.75 220.0,284.75 C220.0,284.75 224.0,292.25 224.0,292.25 C224.0,292.25 230.0,298.75 230.0,298.75 C230.0,298.75 240.0,311.00 240.0,311.00 C240.0,311.00 250.0,324.00 250.0,324.00 C250.0,324.00 258.0,336.00 258.0,336.00 C258.0,336.00 270.0,351.25 270.0,351.25 C270.0,351.25 280.0,365.60 280.0,365.60 C280.0,365.60 288.0,378.75 288.0,378.75 C288.0,378.75 297.0,378.75 297.0,378.75 C297.0,378.75 303.0,373.75 303.0,373.75 C303.0,373.75 310.0,370.00 310.0,370.00 C310.0,370.00 320.0,363.75 320.0,363.75 C320.0,363.75 328.0,356.90 328.0,356.90 C328.0,356.90 335.0,351.25 335.0,351.25 C335.0,351.25 350.0,348.75 350.0,348.75 C350.0,348.75 357.0,343.75 357.0,343.75 C357.0,343.75 370.0,337.75 370.0,337.75 C370.0,337.75 375.0,333.75 375.0,333.75 C375.0,333.75 383.0,325.60 383.0,325.60 C383.0,325.60 390.0,317.50 390.0,317.50 C390.0,317.50 400.0,307.50 400.0,307.50 C400.0,307.50 408.0,298.00 408.0,298.00 C408.0,298.00 414.0,290.00 414.0,290.00 C414.0,290.00 420.0,286.90 420.0,286.90 C420.0,286.90 428.0,286.25 428.0,286.25 C428.0,286.25 436.0,283.10 436.0,283.10 C436.0,283.10 444.0,279.40 444.0,279.40 C444.0,279.40 452.0,274.40 452.0,274.40 C452.0,274.40 460.0,269.40 460.0,269.40 C460.0,269.40 467.0,265.60 467.0,265.60 C467.0,265.60 470.0,265.60 470.0,265.60 C470.0,265.60 475.0,268.10 475.0,268.10 C475.0,268.10 483.0,275.60 483.0,275.60 C483.0,275.60 490.0,284.40 490.0,284.40 C490.0,284.40 500.0,298.75 500.0,298.75 C500.0,298.75 505.0,305.00 505.0,305.00 C505.0,305.00 514.0,311.90 514.0,311.90 C514.0,311.90 520.0,314.75 520.0,314.75 C520.0,314.75 537.0,314.75 537.0,314.75 C537.0,314.75 545.0,311.25 545.0,311.25 C545.0,311.25 553.0,311.90 553.0,311.90 C553.0,311.90 561.0,316.00 561.0,316.00 C561.0,316.00 569.0,319.75 569.0,319.75 C569.0,319.75 576.0,320.00 576.0,320.00 C576.0,320.00 584.0,325.60 584.0,325.60 C584.0,325.60 592.0,319.40 592.0,319.40 C592.0,319.40 600.0,311.90 600.0,311.90 C600.0,311.90 608.0,306.90 608.0,306.90 C608.0,306.90 615.0,305.00 615.0,305.00 C615.0,305.00 623.0,304.40 623.0,304.40 C623.0,304.40 631.0,305.00 631.0,305.00 C631.0,305.00 639.0,307.50 639.0,307.50 C639.0,307.50 646.0,305.00 646.0,305.00 C646.0,305.00 654.0,303.10 654.0,303.10 C654.0,303.10 662.0,299.40 662.0,299.40 C662.0,299.40 670.0,294.40 670.0,294.40 C670.0,294.40 678.0,286.25 678.0,286.25 C678.0,286.25 686.0,283.10 686.0,283.10 C686.0,283.10 693.0,282.50 693.0,282.50 C693.0,282.50 701.0,284.40 701.0,284.40 C701.0,284.40 717.0,284.75 717.0,284.75 C717.0,284.75 724.0,283.50 724.0,283.50 C724.0,283.50 732.0,278.10 732.0,278.10 C732.0,278.10 740.0,272.50 740.0,272.50 C740.0,272.50 748.0,266.90 748.0,266.90 C748.0,266.90 756.0,258.75 756.0,258.75 C756.0,258.75 764.0,250.60 764.0,250.60 C764.0,250.60 771.0,244.40 771.0,244.40 C771.0,244.40 779.0,239.40 779.0,239.40 C779.0,239.40 787.0,239.40 787.0,239.40 C787.0,239.40 795.0,237.50 795.0,237.50 C795.0,237.50 803.0,235.25 803.0,235.25 C803.0,235.25 810.0,235.25 810.0,235.25 C810.0,235.25 818.0,236.90 818.0,236.90 C818.0,236.90 826.0,233.10 826.0,233.10 C826.0,233.10 834.0,228.75 834.0,228.75 C834.0,228.75 842.0,228.75 842.0,228.75 C842.0,228.75 850.0,229.60 850.0,229.60 C850.0,229.60 857.0,232.30 857.0,232.30 C857.0,232.30 865.0,238.30 865.0,238.30 C865.0,238.30 873.0,244.20 873.0,244.20 C873.0,244.20 881.0,252.90 881.0,252.90 C881.0,252.90 888.0,260.80 888.0,260.80 C888.0,260.80 896.0,269.40 896.0,269.40 C896.0,269.40 904.0,275.10 904.0,275.10 C904.0,275.10 912.0,277.40 912.0,277.40 C912.0,277.40 920.0,279.40 920.0,279.40 C920.0,279.40 927.0,281.80 927.0,281.80 C927.0,281.80 935.0,283.10 935.0,283.10 C935.0,283.10 943.0,281.40 943.0,281.40 C943.0,281.40 951.0,279.40 951.0,279.40 C951.0,279.40 958.0,276.10 958.0,276.10 C958.0,276.10 966.0,269.40 966.0,269.40 C966.0,269.40 974.0,264.50 974.0,264.50 C974.0,264.50 982.0,264.50 982.0,264.50 C982.0,264.50 990.0,268.10 990.0,268.10 C990.0,268.10 998.0,274.10 998.0,274.10 C998.0,274.10 1006.0,278.00 1006.0,278.00 C1006.0,278.00 1013.0,280.70 1013.0,280.70 C1013.0,280.70 1021.0,282.00 1021.0,282.00" fill="none" stroke="#0000c8" stroke-width="2.0" stroke-linejoin="round"/>
<rect x="490.5" y="42.5" width="379" height="60" fill="url(#tg)" stroke="#2626a0" stroke-width="1"/>
<text transform="translate(496.51,91.80) scale(0.9391,0.9800)" font-family='"Liberation Sans", sans-serif' font-size="50" fill="#0000e6" stroke="#0000e6" stroke-width="0.8">U</text>
<text transform="translate(532.01,91.80) scale(0.9263,0.9800)" font-family='"Liberation Sans", sans-serif' font-size="50" fill="#0000e6" stroke="#0000e6" stroke-width="0.8">S</text>
<text transform="translate(565.78,91.80) scale(0.9525,0.9800)" font-family='"Liberation Sans", sans-serif' font-size="50" fill="#0000e6" stroke="#0000e6" stroke-width="0.8">D</text>
<polygon points="615.4,55 620.6,55 605.8,98.6 600.6,98.6" fill="#0000e6"/>
<text transform="translate(623.85,91.80) scale(0.9221,0.9800)" font-family='"Liberation Sans", sans-serif' font-size="50" fill="#0000e6" stroke="#0000e6" stroke-width="0.8">C</text>
<text transform="translate(658.61,91.80) scale(0.9023,0.9800)" font-family='"Liberation Sans", sans-serif' font-size="50" fill="#0000e6" stroke="#0000e6" stroke-width="0.8">A</text>
<text transform="translate(691.12,91.80) scale(0.9660,0.9800)" font-family='"Liberation Sans", sans-serif' font-size="50" fill="#0000e6" stroke="#0000e6" stroke-width="0.8">D</text>
<text transform="translate(744.78,91.80) scale(0.9761,0.9800)" font-family='"Liberation Sans", sans-serif' font-size="50" fill="#0000e6" stroke="#0000e6" stroke-width="0.8">D</text>
<text transform="translate(782.55,91.80) scale(0.8325,0.9500)" font-family='"Liberation Sans", sans-serif' font-size="50" fill="#0000e6" stroke="#0000e6" stroke-width="0.8">a</text>
<text transform="translate(810.98,91.80) scale(0.9973,0.9500)" font-family='"Liberation Sans", sans-serif' font-size="50" fill="#0000e6" stroke="#0000e6" stroke-width="0.8">i</text>
<text transform="translate(824.85,91.80) scale(0.8840,1.0000)" font-family='"Liberation Sans", sans-serif' font-size="50" fill="#0000e6" stroke="#0000e6" stroke-width="0.8">l</text>
<text transform="translate(838.21,91.80) scale(0.9434,0.9500)" font-family='"Liberation Sans", sans-serif' font-size="50" fill="#0000e6" stroke="#0000e6" stroke-width="0.8">y</text>
<line x1="6" y1="539" x2="1297.5" y2="539" stroke="#8a8a8a" stroke-width="1"/>
<line x1="13.8" y1="536" x2="13.8" y2="539" stroke="#8a8a8a" stroke-width="1"/>
<line x1="23.5" y1="527" x2="23.5" y2="539" stroke="#8a8a8a" stroke-width="1"/>
<line x1="33.2" y1="536" x2="33.2" y2="539" stroke="#8a8a8a" stroke-width="1"/>
<line x1="43.0" y1="533" x2="43.0" y2="539" stroke="#8a8a8a" stroke-width="1"/>
<line x1="52.8" y1="536" x2="52.8" y2="539" stroke="#8a8a8a" stroke-width="1"/>
<line x1="62.5" y1="533" x2="62.5" y2="539" stroke="#8a8a8a" stroke-width="1"/>
<line x1="72.2" y1="536" x2="72.2" y2="539" stroke="#8a8a8a" stroke-width="1"/>
<line x1="82.0" y1="533" x2="82.0" y2="539" stroke="#8a8a8a" stroke-width="1"/>
<line x1="91.8" y1="536" x2="91.8" y2="539" stroke="#8a8a8a" stroke-width="1"/>
<line x1="101.5" y1="527" x2="101.5" y2="539" stroke="#8a8a8a" stroke-width="1"/>
<line x1="111.2" y1="536" x2="111.2" y2="539" stroke="#8a8a8a" stroke-width="1"/>
<line x1="121.0" y1="533" x2="121.0" y2="539" stroke="#8a8a8a" stroke-width="1"/>
<line x1="130.8" y1="536" x2="130.8" y2="539" stroke="#8a8a8a" stroke-width="1"/>
<line x1="140.5" y1="533" x2="140.5" y2="539" stroke="#8a8a8a" stroke-width="1"/>
<line x1="150.2" y1="536" x2="150.2" y2="539" stroke="#8a8a8a" stroke-width="1"/>
<line x1="160.0" y1="533" x2="160.0" y2="539" stroke="#8a8a8a" stroke-width="1"/>
<line x1="169.8" y1="536" x2="169.8" y2="539" stroke="#8a8a8a" stroke-width="1"/>
<line x1="179.5" y1="527" x2="179.5" y2="539" stroke="#8a8a8a" stroke-width="1"/>
<line x1="189.2" y1="536" x2="189.2" y2="539" stroke="#8a8a8a" stroke-width="1"/>
<line x1="199.0" y1="533" x2="199.0" y2="539" stroke="#8a8a8a" stroke-width="1"/>
<line x1="208.8" y1="536" x2="208.8" y2="539" stroke="#8a8a8a" stroke-width="1"/>
<line x1="218.5" y1="533" x2="218.5" y2="539" stroke="#8a8a8a" stroke-width="1"/>
<line x1="228.2" y1="536" x2="228.2" y2="539" stroke="#8a8a8a" stroke-width="1"/>
<line x1="238.0" y1="533" x2="238.0" y2="539" stroke="#8a8a8a" stroke-width="1"/>
<line x1="247.8" y1="536" x2="247.8" y2="539" stroke="#8a8a8a" stroke-width="1"/>
<line x1="257.5" y1="527" x2="257.5" y2="539" stroke="#8a8a8a" stroke-width="1"/>
<line x1="267.2" y1="536" x2="267.2" y2="539" stroke="#8a8a8a" stroke-width="1"/>
<line x1="277.0" y1="533" x2="277.0" y2="539" stroke="#8a8a8a" stroke-width="1"/>
<line x1="286.8" y1="536" x2="286.8" y2="539" stroke="#8a8a8a" stroke-width="1"/>
<line x1="296.5" y1="533" x2="296.5" y2="539" stroke="#8a8a8a" stroke-width="1"/>
<line x1="306.2" y1="536" x2="306.2" y2="539" stroke="#8a8a8a" stroke-width="1"/>
<line x1="316.0" y1="533" x2="316.0" y2="539" stroke="#8a8a8a" stroke-width="1"/>
<line x1="325.8" y1="536" x2="325.8" y2="539" stroke="#8a8a8a" stroke-width="1"/>
<line x1="335.5" y1="527" x2="335.5" y2="539" stroke="#8a8a8a" stroke-width="1"/>
<line x1="345.2" y1="536" x2="345.2" y2="539" stroke="#8a8a8a" stroke-width="1"/>
<line x1="355.0" y1="533" x2="355.0" y2="539" stroke="#8a8a8a" stroke-width="1"/>
<line x1="364.8" y1="536" x2="364.8" y2="539" stroke="#8a8a8a" stroke-width="1"/>
<line x1="374.5" y1="533" x2="374.5" y2="539" stroke="#8a8a8a" stroke-width="1"/>
<line x1="384.2" y1="536" x2="384.2" y2="539" stroke="#8a8a8a" stroke-width="1"/>
<line x1="394.0" y1="533" x2="394.0" y2="539" stroke="#8a8a8a" stroke-width="1"/>
<line x1="403.8" y1="536" x2="403.8" y2="539" stroke="#8a8a8a" stroke-width="1"/>
<line x1="413.5" y1="527" x2="413.5" y2="539" stroke="#8a8a8a" stroke-width="1"/>
<line x1="423.2" y1="536" x2="423.2" y2="539" stroke="#8a8a8a" stroke-width="1"/>
<line x1="433.0" y1="533" x2="433.0" y2="539" stroke="#8a8a8a" stroke-width="1"/>
<line x1="442.8" y1="536" x2="442.8" y2="539" stroke="#8a8a8a" stroke-width="1"/>
<line x1="452.5" y1="533" x2="452.5" y2="539" stroke="#8a8a8a" stroke-width="1"/>
<line x1="462.2" y1="536" x2="462.2" y2="539" stroke="#8a8a8a" stroke-width="1"/>
<line x1="472.0" y1="533" x2="472.0" y2="539" stroke="#8a8a8a" stroke-width="1"/>
<line x1="481.8" y1="536" x2="481.8" y2="539" stroke="#8a8a8a" stroke-width="1"/>
<line x1="491.5" y1="527" x2="491.5" y2="539" stroke="#8a8a8a" stroke-width="1"/>
<line x1="501.2" y1="536" x2="501.2" y2="539" stroke="#8a8a8a" stroke-width="1"/>
<line x1="511.0" y1="533" x2="511.0" y2="539" stroke="#8a8a8a" stroke-width="1"/>
<line x1="520.8" y1="536" x2="520.8" y2="539" stroke="#8a8a8a" stroke-width="1"/>
<line x1="530.5" y1="533" x2="530.5" y2="539" stroke="#8a8a8a" stroke-width="1"/>
<line x1="540.2" y1="536" x2="540.2" y2="539" stroke="#8a8a8a" stroke-width="1"/>
<line x1="550.0" y1="533" x2="550.0" y2="539" stroke="#8a8a8a" stroke-width="1"/>
<line x1="559.8" y1="536" x2="559.8" y2="539" stroke="#8a8a8a" stroke-width="1"/>
<line x1="569.5" y1="527" x2="569.5" y2="539" stroke="#8a8a8a" stroke-width="1"/>
<line x1="579.2" y1="536" x2="579.2" y2="539" stroke="#8a8a8a" stroke-width="1"/>
<line x1="589.0" y1="533" x2="589.0" y2="539" stroke="#8a8a8a" stroke-width="1"/>
<line x1="598.8" y1="536" x2="598.8" y2="539" stroke="#8a8a8a" stroke-width="1"/>
<line x1="608.5" y1="533" x2="608.5" y2="539" stroke="#8a8a8a" stroke-width="1"/>
<line x1="618.2" y1="536" x2="618.2" y2="539" stroke="#8a8a8a" stroke-width="1"/>
<line x1="628.0" y1="533" x2="628.0" y2="539" stroke="#8a8a8a" stroke-width="1"/>
<line x1="637.8" y1="536" x2="637.8" y2="539" stroke="#8a8a8a" stroke-width="1"/>
<line x1="647.5" y1="527" x2="647.5" y2="539" stroke="#8a8a8a" stroke-width="1"/>
<line x1="657.2" y1="536" x2="657.2" y2="539" stroke="#8a8a8a" stroke-width="1"/>
<line x1="667.0" y1="533" x2="667.0" y2="539" stroke="#8a8a8a" stroke-width="1"/>
<line x1="676.8" y1="536" x2="676.8" y2="539" stroke="#8a8a8a" stroke-width="1"/>
<line x1="686.5" y1="533" x2="686.5" y2="539" stroke="#8a8a8a" stroke-width="1"/>
<line x1="696.2" y1="536" x2="696.2" y2="539" stroke="#8a8a8a" stroke-width="1"/>
<line x1="706.0" y1="533" x2="706.0" y2="539" stroke="#8a8a8a" stroke-width="1"/>
<line x1="715.8" y1="536" x2="715.8" y2="539" stroke="#8a8a8a" stroke-width="1"/>
<line x1="725.5" y1="527" x2="725.5" y2="539" stroke="#8a8a8a" stroke-width="1"/>
<line x1="735.2" y1="536" x2="735.2" y2="539" stroke="#8a8a8a" stroke-width="1"/>
<line x1="745.0" y1="533" x2="745.0" y2="539" stroke="#8a8a8a" stroke-width="1"/>
<line x1="754.8" y1="536" x2="754.8" y2="539" stroke="#8a8a8a" stroke-width="1"/>
<line x1="764.5" y1="533" x2="764.5" y2="539" stroke="#8a8a8a" stroke-width="1"/>
<line x1="774.2" y1="536" x2="774.2" y2="539" stroke="#8a8a8a" stroke-width="1"/>
<line x1="784.0" y1="533" x2="784.0" y2="539" stroke="#8a8a8a" stroke-width="1"/>
<line x1="793.8" y1="536" x2="793.8" y2="539" stroke="#8a8a8a" stroke-width="1"/>
<line x1="803.5" y1="527" x2="803.5" y2="539" stroke="#8a8a8a" stroke-width="1"/>
<line x1="813.2" y1="536" x2="813.2" y2="539" stroke="#8a8a8a" stroke-width="1"/>
<line x1="823.0" y1="533" x2="823.0" y2="539" stroke="#8a8a8a" stroke-width="1"/>
<line x1="832.8" y1="536" x2="832.8" y2="539" stroke="#8a8a8a" stroke-width="1"/>
<line x1="842.5" y1="533" x2="842.5" y2="539" stroke="#8a8a8a" stroke-width="1"/>
<line x1="852.2" y1="536" x2="852.2" y2="539" stroke="#8a8a8a" stroke-width="1"/>
<line x1="862.0" y1="533" x2="862.0" y2="539" stroke="#8a8a8a" stroke-width="1"/>
<line x1="871.8" y1="536" x2="871.8" y2="539" stroke="#8a8a8a" stroke-width="1"/>
<line x1="881.5" y1="527" x2="881.5" y2="539" stroke="#8a8a8a" stroke-width="1"/>
<line x1="891.2" y1="536" x2="891.2" y2="539" stroke="#8a8a8a" stroke-width="1"/>
<line x1="901.0" y1="533" x2="901.0" y2="539" stroke="#8a8a8a" stroke-width="1"/>
<line x1="910.8" y1="536" x2="910.8" y2="539" stroke="#8a8a8a" stroke-width="1"/>
<line x1="920.5" y1="533" x2="920.5" y2="539" stroke="#8a8a8a" stroke-width="1"/>
<line x1="930.2" y1="536" x2="930.2" y2="539" stroke="#8a8a8a" stroke-width="1"/>
<line x1="940.0" y1="533" x2="940.0" y2="539" stroke="#8a8a8a" stroke-width="1"/>
<line x1="949.8" y1="536" x2="949.8" y2="539" stroke="#8a8a8a" stroke-width="1"/>
<line x1="959.5" y1="527" x2="959.5" y2="539" stroke="#8a8a8a" stroke-width="1"/>
<line x1="969.2" y1="536" x2="969.2" y2="539" stroke="#8a8a8a" stroke-width="1"/>
<line x1="979.0" y1="533" x2="979.0" y2="539" stroke="#8a8a8a" stroke-width="1"/>
<line x1="988.8" y1="536" x2="988.8" y2="539" stroke="#8a8a8a" stroke-width="1"/>
<line x1="998.5" y1="533" x2="998.5" y2="539" stroke="#8a8a8a" stroke-width="1"/>
<line x1="1008.2" y1="536" x2="1008.2" y2="539" stroke="#8a8a8a" stroke-width="1"/>
<line x1="1018.0" y1="533" x2="1018.0" y2="539" stroke="#8a8a8a" stroke-width="1"/>
<line x1="1027.8" y1="536" x2="1027.8" y2="539" stroke="#8a8a8a" stroke-width="1"/>
<line x1="1037.5" y1="527" x2="1037.5" y2="539" stroke="#8a8a8a" stroke-width="1"/>
<line x1="1047.2" y1="536" x2="1047.2" y2="539" stroke="#8a8a8a" stroke-width="1"/>
<line x1="1057.0" y1="533" x2="1057.0" y2="539" stroke="#8a8a8a" stroke-width="1"/>
<line x1="1066.8" y1="536" x2="1066.8" y2="539" stroke="#8a8a8a" stroke-width="1"/>
<line x1="1076.5" y1="533" x2="1076.5" y2="539" stroke="#8a8a8a" stroke-width="1"/>
<line x1="1086.2" y1="536" x2="1086.2" y2="539" stroke="#8a8a8a" stroke-width="1"/>
<line x1="1096.0" y1="533" x2="1096.0" y2="539" stroke="#8a8a8a" stroke-width="1"/>
<line x1="1105.8" y1="536" x2="1105.8" y2="539" stroke="#8a8a8a" stroke-width="1"/>
<line x1="1115.5" y1="527" x2="1115.5" y2="539" stroke="#8a8a8a" stroke-width="1"/>
<line x1="1125.2" y1="536" x2="1125.2" y2="539" stroke="#8a8a8a" stroke-width="1"/>
<line x1="1135.0" y1="533" x2="1135.0" y2="539" stroke="#8a8a8a" stroke-width="1"/>
<line x1="1144.8" y1="536" x2="1144.8" y2="539" stroke="#8a8a8a" stroke-width="1"/>
<line x1="1154.5" y1="533" x2="1154.5" y2="539" stroke="#8a8a8a" stroke-width="1"/>
<line x1="1164.2" y1="536" x2="1164.2" y2="539" stroke="#8a8a8a" stroke-width="1"/>
<line x1="1174.0" y1="533" x2="1174.0" y2="539" stroke="#8a8a8a" stroke-width="1"/>
<line x1="1183.8" y1="536" x2="1183.8" y2="539" stroke="#8a8a8a" stroke-width="1"/>
<line x1="1193.5" y1="527" x2="1193.5" y2="539" stroke="#8a8a8a" stroke-width="1"/>
<line x1="1203.2" y1="536" x2="1203.2" y2="539" stroke="#8a8a8a" stroke-width="1"/>
<line x1="1213.0" y1="533" x2="1213.0" y2="539" stroke="#8a8a8a" stroke-width="1"/>
<line x1="1222.8" y1="536" x2="1222.8" y2="539" stroke="#8a8a8a" stroke-width="1"/>
<line x1="1232.5" y1="533" x2="1232.5" y2="539" stroke="#8a8a8a" stroke-width="1"/>
<line x1="1242.2" y1="536" x2="1242.2" y2="539" stroke="#8a8a8a" stroke-width="1"/>
<line x1="1252.0" y1="533" x2="1252.0" y2="539" stroke="#8a8a8a" stroke-width="1"/>
<line x1="1261.8" y1="536" x2="1261.8" y2="539" stroke="#8a8a8a" stroke-width="1"/>
<line x1="1271.5" y1="527" x2="1271.5" y2="539" stroke="#8a8a8a" stroke-width="1"/>
<line x1="1281.2" y1="536" x2="1281.2" y2="539" stroke="#8a8a8a" stroke-width="1"/>
<line x1="1291.0" y1="533" x2="1291.0" y2="539" stroke="#8a8a8a" stroke-width="1"/>
<text x="7" y="557.2" font-family='"Liberation Sans", sans-serif' font-size="11" fill="#33334d" stroke="#33334d" stroke-width="0.0" textLength="64" lengthAdjust="spacing">2016-03-11</text>
<text x="84.5" y="557.2" font-family='"Liberation Sans", sans-serif' font-size="11" fill="#33334d" stroke="#33334d" stroke-width="0.0" textLength="32" lengthAdjust="spacing">03-29</text>
<text x="162.5" y="557.2" font-family='"Liberation Sans", sans-serif' font-size="11" fill="#33334d" stroke="#33334d" stroke-width="0.0" textLength="32" lengthAdjust="spacing">04-12</text>
<text x="240.5" y="557.2" font-family='"Liberation Sans", sans-serif' font-size="11" fill="#33334d" stroke="#33334d" stroke-width="0.0" textLength="32" lengthAdjust="spacing">04-26</text>
<text x="318.5" y="557.2" font-family='"Liberation Sans", sans-serif' font-size="11" fill="#33334d" stroke="#33334d" stroke-width="0.0" textLength="32" lengthAdjust="spacing">05-10</text>
<text x="396.5" y="557.2" font-family='"Liberation Sans", sans-serif' font-size="11" fill="#33334d" stroke="#33334d" stroke-width="0.0" textLength="32" lengthAdjust="spacing">05-24</text>
<text x="474.5" y="557.2" font-family='"Liberation Sans", sans-serif' font-size="11" fill="#33334d" stroke="#33334d" stroke-width="0.0" textLength="32" lengthAdjust="spacing">06-07</text>
<text x="552.5" y="557.2" font-family='"Liberation Sans", sans-serif' font-size="11" fill="#33334d" stroke="#33334d" stroke-width="0.0" textLength="32" lengthAdjust="spacing">06-21</text>
<text x="630.5" y="557.2" font-family='"Liberation Sans", sans-serif' font-size="11" fill="#33334d" stroke="#33334d" stroke-width="0.0" textLength="32" lengthAdjust="spacing">07-05</text>
<text x="708.5" y="557.2" font-family='"Liberation Sans", sans-serif' font-size="11" fill="#33334d" stroke="#33334d" stroke-width="0.0" textLength="32" lengthAdjust="spacing">07-19</text>
<text x="786.5" y="557.2" font-family='"Liberation Sans", sans-serif' font-size="11" fill="#33334d" stroke="#33334d" stroke-width="0.0" textLength="32" lengthAdjust="spacing">08-02</text>
<text x="864.5" y="557.2" font-family='"Liberation Sans", sans-serif' font-size="11" fill="#33334d" stroke="#33334d" stroke-width="0.0" textLength="32" lengthAdjust="spacing">08-16</text>
<text x="942.5" y="557.2" font-family='"Liberation Sans", sans-serif' font-size="11" fill="#33334d" stroke="#33334d" stroke-width="0.0" textLength="32" lengthAdjust="spacing">08-30</text>
<text x="1020.5" y="557.2" font-family='"Liberation Sans", sans-serif' font-size="11" fill="#33334d" stroke="#33334d" stroke-width="0.0" textLength="32" lengthAdjust="spacing">09-11</text>
<text x="1098.5" y="557.2" font-family='"Liberation Sans", sans-serif' font-size="11" fill="#33334d" stroke="#33334d" stroke-width="0.0" textLength="32" lengthAdjust="spacing">09-21</text>
<text x="1176.5" y="557.2" font-family='"Liberation Sans", sans-serif' font-size="11" fill="#33334d" stroke="#33334d" stroke-width="0.0" textLength="32" lengthAdjust="spacing">10-01</text>
<text x="1254.5" y="557.2" font-family='"Liberation Sans", sans-serif' font-size="11" fill="#33334d" stroke="#33334d" stroke-width="0.0" textLength="32" lengthAdjust="spacing">10-11</text>
<rect x="6.5" y="564.8" width="1346" height="4" fill="#e6dcc6"/><rect x="6.5" y="562" width="1346" height="2.8" fill="#fdfbf0"/>
<line x1="1297.5" y1="28" x2="1297.5" y2="539.5" stroke="#8a8a8a" stroke-width="1"/>
<line x1="1293.5" y1="44.50" x2="1297.5" y2="44.50" stroke="#8a8a8a" stroke-width="1"/>
<line x1="1293.5" y1="48.50" x2="1297.5" y2="48.50" stroke="#8a8a8a" stroke-width="1"/>
<line x1="1293.5" y1="52.50" x2="1297.5" y2="52.50" stroke="#8a8a8a" stroke-width="1"/>
<line x1="1293.5" y1="57.50" x2="1297.5" y2="57.50" stroke="#8a8a8a" stroke-width="1"/>
<line x1="1290.5" y1="62.50" x2="1297.5" y2="62.50" stroke="#8a8a8a" stroke-width="1"/>
<line x1="1293.5" y1="66.50" x2="1297.5" y2="66.50" stroke="#8a8a8a" stroke-width="1"/>
<line x1="1293.5" y1="70.50" x2="1297.5" y2="70.50" stroke="#8a8a8a" stroke-width="1"/>
<line x1="1293.5" y1="75.50" x2="1297.5" y2="75.50" stroke="#8a8a8a" stroke-width="1"/>
<line x1="1293.5" y1="80.50" x2="1297.5" y2="80.50" stroke="#8a8a8a" stroke-width="1"/>
<line x1="1283" y1="84.50" x2="1297.5" y2="84.50" stroke="#8a8a8a" stroke-width="1"/>
<line x1="1293.5" y1="88.50" x2="1297.5" y2="88.50" stroke="#8a8a8a" stroke-width="1"/>
<line x1="1293.5" y1="93.50" x2="1297.5" y2="93.50" stroke="#8a8a8a" stroke-width="1"/>
<line x1="1293.5" y1="98.50" x2="1297.5" y2="98.50" stroke="#8a8a8a" stroke-width="1"/>
<line x1="1293.5" y1="102.50" x2="1297.5" y2="102.50" stroke="#8a8a8a" stroke-width="1"/>
<line x1="1290.5" y1="106.50" x2="1297.5" y2="106.50" stroke="#8a8a8a" stroke-width="1"/>
<line x1="1293.5" y1="111.50" x2="1297.5" y2="111.50" stroke="#8a8a8a" stroke-width="1"/>
<line x1="1293.5" y1="116.50" x2="1297.5" y2="116.50" stroke="#8a8a8a" stroke-width="1"/>
<line x1="1293.5" y1="120.50" x2="1297.5" y2="120.50" stroke="#8a8a8a" stroke-width="1"/>
<line x1="1293.5" y1="124.50" x2="1297.5" y2="124.50" stroke="#8a8a8a" stroke-width="1"/>
<line x1="1283" y1="129.50" x2="1297.5" y2="129.50" stroke="#8a8a8a" stroke-width="1"/>
<line x1="1293.5" y1="134.50" x2="1297.5" y2="134.50" stroke="#8a8a8a" stroke-width="1"/>
<line x1="1293.5" y1="138.50" x2="1297.5" y2="138.50" stroke="#8a8a8a" stroke-width="1"/>
<line x1="1293.5" y1="143.50" x2="1297.5" y2="143.50" stroke="#8a8a8a" stroke-width="1"/>
<line x1="1293.5" y1="147.50" x2="1297.5" y2="147.50" stroke="#8a8a8a" stroke-width="1"/>
<line x1="1290.5" y1="152.50" x2="1297.5" y2="152.50" stroke="#8a8a8a" stroke-width="1"/>
<line x1="1293.5" y1="157.50" x2="1297.5" y2="157.50" stroke="#8a8a8a" stroke-width="1"/>
<line x1="1293.5" y1="161.50" x2="1297.5" y2="161.50" stroke="#8a8a8a" stroke-width="1"/>
<line x1="1293.5" y1="166.50" x2="1297.5" y2="166.50" stroke="#8a8a8a" stroke-width="1"/>
<line x1="1293.5" y1="170.50" x2="1297.5" y2="170.50" stroke="#8a8a8a" stroke-width="1"/>
<line x1="1283" y1="175.50" x2="1297.5" y2="175.50" stroke="#8a8a8a" stroke-width="1"/>
<line x1="1293.5" y1="180.50" x2="1297.5" y2="180.50" stroke="#8a8a8a" stroke-width="1"/>
<line x1="1293.5" y1="184.50" x2="1297.5" y2="184.50" stroke="#8a8a8a" stroke-width="1"/>
<line x1="1293.5" y1="188.50" x2="1297.5" y2="188.50" stroke="#8a8a8a" stroke-width="1"/>
<line x1="1293.5" y1="193.50" x2="1297.5" y2="193.50" stroke="#8a8a8a" stroke-width="1"/>
<line x1="1290.5" y1="198.50" x2="1297.5" y2="198.50" stroke="#8a8a8a" stroke-width="1"/>
<line x1="1293.5" y1="202.50" x2="1297.5" y2="202.50" stroke="#8a8a8a" stroke-width="1"/>
<line x1="1293.5" y1="206.50" x2="1297.5" y2="206.50" stroke="#8a8a8a" stroke-width="1"/>
<line x1="1293.5" y1="211.50" x2="1297.5" y2="211.50" stroke="#8a8a8a" stroke-width="1"/>
<line x1="1293.5" y1="216.50" x2="1297.5" y2="216.50" stroke="#8a8a8a" stroke-width="1"/>
<line x1="1283" y1="220.50" x2="1297.5" y2="220.50" stroke="#8a8a8a" stroke-width="1"/>
<line x1="1293.5" y1="224.50" x2="1297.5" y2="224.50" stroke="#8a8a8a" stroke-width="1"/>
<line x1="1293.5" y1="229.50" x2="1297.5" y2="229.50" stroke="#8a8a8a" stroke-width="1"/>
<line x1="1293.5" y1="234.50" x2="1297.5" y2="234.50" stroke="#8a8a8a" stroke-width="1"/>
<line x1="1293.5" y1="238.50" x2="1297.5" y2="238.50" stroke="#8a8a8a" stroke-width="1"/>
<line x1="1290.5" y1="242.50" x2="1297.5" y2="242.50" stroke="#8a8a8a" stroke-width="1"/>
<line x1="1293.5" y1="247.50" x2="1297.5" y2="247.50" stroke="#8a8a8a" stroke-width="1"/>
<line x1="1293.5" y1="252.50" x2="1297.5" y2="252.50" stroke="#8a8a8a" stroke-width="1"/>
<line x1="1293.5" y1="256.50" x2="1297.5" y2="256.50" stroke="#8a8a8a" stroke-width="1"/>
<line x1="1293.5" y1="260.50" x2="1297.5" y2="260.50" stroke="#8a8a8a" stroke-width="1"/>
<line x1="1283" y1="265.50" x2="1297.5" y2="265.50" stroke="#8a8a8a" stroke-width="1"/>
<line x1="1293.5" y1="270.50" x2="1297.5" y2="270.50" stroke="#8a8a8a" stroke-width="1"/>
<line x1="1293.5" y1="274.50" x2="1297.5" y2="274.50" stroke="#8a8a8a" stroke-width="1"/>
<line x1="1293.5" y1="278.50" x2="1297.5" y2="278.50" stroke="#8a8a8a" stroke-width="1"/>
<line x1="1293.5" y1="283.50" x2="1297.5" y2="283.50" stroke="#8a8a8a" stroke-width="1"/>
<line x1="1290.5" y1="288.50" x2="1297.5" y2="288.50" stroke="#8a8a8a" stroke-width="1"/>
<line x1="1293.5" y1="292.50" x2="1297.5" y2="292.50" stroke="#8a8a8a" stroke-width="1"/>
<line x1="1293.5" y1="296.50" x2="1297.5" y2="296.50" stroke="#8a8a8a" stroke-width="1"/>
<line x1="1293.5" y1="301.50" x2="1297.5" y2="301.50" stroke="#8a8a8a" stroke-width="1"/>
<line x1="1293.5" y1="306.50" x2="1297.5" y2="306.50" stroke="#8a8a8a" stroke-width="1"/>
<line x1="1283" y1="310.50" x2="1297.5" y2="310.50" stroke="#8a8a8a" stroke-width="1"/>
<line x1="1293.5" y1="314.50" x2="1297.5" y2="314.50" stroke="#8a8a8a" stroke-width="1"/>
<line x1="1293.5" y1="319.50" x2="1297.5" y2="319.50" stroke="#8a8a8a" stroke-width="1"/>
<line x1="1293.5" y1="324.50" x2="1297.5" y2="324.50" stroke="#8a8a8a" stroke-width="1"/>
<line x1="1293.5" y1="328.50" x2="1297.5" y2="328.50" stroke="#8a8a8a" stroke-width="1"/>
<line x1="1290.5" y1="332.50" x2="1297.5" y2="332.50" stroke="#8a8a8a" stroke-width="1"/>
<line x1="1293.5" y1="337.50" x2="1297.5" y2="337.50" stroke="#8a8a8a" stroke-width="1"/>
<line x1="1293.5" y1="342.50" x2="1297.5" y2="342.50" stroke="#8a8a8a" stroke-width="1"/>
<line x1="1293.5" y1="346.50" x2="1297.5" y2="346.50" stroke="#8a8a8a" stroke-width="1"/>
<line x1="1293.5" y1="350.50" x2="1297.5" y2="350.50" stroke="#8a8a8a" stroke-width="1"/>
<line x1="1283" y1="355.50" x2="1297.5" y2="355.50" stroke="#8a8a8a" stroke-width="1"/>
<line x1="1293.5" y1="360.50" x2="1297.5" y2="360.50" stroke="#8a8a8a" stroke-width="1"/>
<line x1="1293.5" y1="364.50" x2="1297.5" y2="364.50" stroke="#8a8a8a" stroke-width="1"/>
<line x1="1293.5" y1="369.50" x2="1297.5" y2="369.50" stroke="#8a8a8a" stroke-width="1"/>
<line x1="1293.5" y1="373.50" x2="1297.5" y2="373.50" stroke="#8a8a8a" stroke-width="1"/>
<line x1="1290.5" y1="378.50" x2="1297.5" y2="378.50" stroke="#8a8a8a" stroke-width="1"/>
<line x1="1293.5" y1="383.50" x2="1297.5" y2="383.50" stroke="#8a8a8a" stroke-width="1"/>
<line x1="1293.5" y1="387.50" x2="1297.5" y2="387.50" stroke="#8a8a8a" stroke-width="1"/>
<line x1="1293.5" y1="392.50" x2="1297.5" y2="392.50" stroke="#8a8a8a" stroke-width="1"/>
<line x1="1293.5" y1="396.50" x2="1297.5" y2="396.50" stroke="#8a8a8a" stroke-width="1"/>
<line x1="1283" y1="401.50" x2="1297.5" y2="401.50" stroke="#8a8a8a" stroke-width="1"/>
<line x1="1293.5" y1="406.50" x2="1297.5" y2="406.50" stroke="#8a8a8a" stroke-width="1"/>
<line x1="1293.5" y1="410.50" x2="1297.5" y2="410.50" stroke="#8a8a8a" stroke-width="1"/>
<line x1="1293.5" y1="414.50" x2="1297.5" y2="414.50" stroke="#8a8a8a" stroke-width="1"/>
<line x1="1293.5" y1="419.50" x2="1297.5" y2="419.50" stroke="#8a8a8a" stroke-width="1"/>
<line x1="1290.5" y1="424.50" x2="1297.5" y2="424.50" stroke="#8a8a8a" stroke-width="1"/>
<line x1="1293.5" y1="428.50" x2="1297.5" y2="428.50" stroke="#8a8a8a" stroke-width="1"/>
<line x1="1293.5" y1="432.50" x2="1297.5" y2="432.50" stroke="#8a8a8a" stroke-width="1"/>
<line x1="1293.5" y1="437.50" x2="1297.5" y2="437.50" stroke="#8a8a8a" stroke-width="1"/>
<line x1="1293.5" y1="442.50" x2="1297.5" y2="442.50" stroke="#8a8a8a" stroke-width="1"/>
<line x1="1283" y1="446.50" x2="1297.5" y2="446.50" stroke="#8a8a8a" stroke-width="1"/>
<line x1="1293.5" y1="450.50" x2="1297.5" y2="450.50" stroke="#8a8a8a" stroke-width="1"/>
<line x1="1293.5" y1="455.50" x2="1297.5" y2="455.50" stroke="#8a8a8a" stroke-width="1"/>
<line x1="1293.5" y1="460.50" x2="1297.5" y2="460.50" stroke="#8a8a8a" stroke-width="1"/>
<line x1="1293.5" y1="464.50" x2="1297.5" y2="464.50" stroke="#8a8a8a" stroke-width="1"/>
<line x1="1290.5" y1="468.50" x2="1297.5" y2="468.50" stroke="#8a8a8a" stroke-width="1"/>
<line x1="1293.5" y1="473.50" x2="1297.5" y2="473.50" stroke="#8a8a8a" stroke-width="1"/>
<line x1="1293.5" y1="478.50" x2="1297.5" y2="478.50" stroke="#8a8a8a" stroke-width="1"/>
<line x1="1293.5" y1="482.50" x2="1297.5" y2="482.50" stroke="#8a8a8a" stroke-width="1"/>
<line x1="1293.5" y1="486.50" x2="1297.5" y2="486.50" stroke="#8a8a8a" stroke-width="1"/>
<line x1="1283" y1="491.50" x2="1297.5" y2="491.50" stroke="#8a8a8a" stroke-width="1"/>
<line x1="1293.5" y1="496.50" x2="1297.5" y2="496.50" stroke="#8a8a8a" stroke-width="1"/>
<line x1="1293.5" y1="500.50" x2="1297.5" y2="500.50" stroke="#8a8a8a" stroke-width="1"/>
<line x1="1293.5" y1="504.50" x2="1297.5" y2="504.50" stroke="#8a8a8a" stroke-width="1"/>
<line x1="1293.5" y1="509.50" x2="1297.5" y2="509.50" stroke="#8a8a8a" stroke-width="1"/>
<line x1="1290.5" y1="514.50" x2="1297.5" y2="514.50" stroke="#8a8a8a" stroke-width="1"/>
<line x1="1293.5" y1="518.50" x2="1297.5" y2="518.50" stroke="#8a8a8a" stroke-width="1"/>
<line x1="1293.5" y1="522.50" x2="1297.5" y2="522.50" stroke="#8a8a8a" stroke-width="1"/>
<line x1="1293.5" y1="527.50" x2="1297.5" y2="527.50" stroke="#8a8a8a" stroke-width="1"/>
<text x="1301" y="89.2" font-family='"Liberation Sans", sans-serif' font-size="11" fill="#33334d" stroke="#33334d" stroke-width="0.0" textLength="37" lengthAdjust="spacing">1,3400</text>
<text x="1301" y="134.2" font-family='"Liberation Sans", sans-serif' font-size="11" fill="#33334d" stroke="#33334d" stroke-width="0.0" textLength="37" lengthAdjust="spacing">1,3300</text>
<text x="1301" y="180.2" font-family='"Liberation Sans", sans-serif' font-size="11" fill="#33334d" stroke="#33334d" stroke-width="0.0" textLength="37" lengthAdjust="spacing">1,3200</text>
<text x="1301" y="225.2" font-family='"Liberation Sans", sans-serif' font-size="11" fill="#33334d" stroke="#33334d" stroke-width="0.0" textLength="37" lengthAdjust="spacing">1,3100</text>
<text x="1301" y="270.2" font-family='"Liberation Sans", sans-serif' font-size="11" fill="#33334d" stroke="#33334d" stroke-width="0.0" textLength="37" lengthAdjust="spacing">1,3000</text>
<text x="1301" y="315.2" font-family='"Liberation Sans", sans-serif' font-size="11" fill="#33334d" stroke="#33334d" stroke-width="0.0" textLength="37" lengthAdjust="spacing">1,2900</text>
<text x="1301" y="360.2" font-family='"Liberation Sans", sans-serif' font-size="11" fill="#33334d" stroke="#33334d" stroke-width="0.0" textLength="37" lengthAdjust="spacing">1,2800</text>
<text x="1301" y="406.2" font-family='"Liberation Sans", sans-serif' font-size="11" fill="#33334d" stroke="#33334d" stroke-width="0.0" textLength="37" lengthAdjust="spacing">1,2700</text>
<text x="1301" y="451.2" font-family='"Liberation Sans", sans-serif' font-size="11" fill="#33334d" stroke="#33334d" stroke-width="0.0" textLength="37" lengthAdjust="spacing">1,2600</text>
<text x="1301" y="496.2" font-family='"Liberation Sans", sans-serif' font-size="11" fill="#33334d" stroke="#33334d" stroke-width="0.0" textLength="37" lengthAdjust="spacing">1,2500</text>
<rect x="1297.8" y="290" width="48" height="15.7" fill="#5ab4f2"/>
<text x="1301" y="302.3" font-family='"Liberation Sans", sans-serif' font-size="11" fill="#0a0a1a" stroke="#0a0a1a" stroke-width="0.0" textLength="43" lengthAdjust="spacing">1,29269</text>
<rect x="1297.8" y="494.2" width="48" height="15.3" fill="#f59a12"/>
<text x="1301" y="506.2" font-family='"Liberation Sans", sans-serif' font-size="11" fill="#0a0a0a" stroke="#0a0a0a" stroke-width="0.0" textLength="43" lengthAdjust="spacing">1,24757</text>
</svg>
</body></html>
